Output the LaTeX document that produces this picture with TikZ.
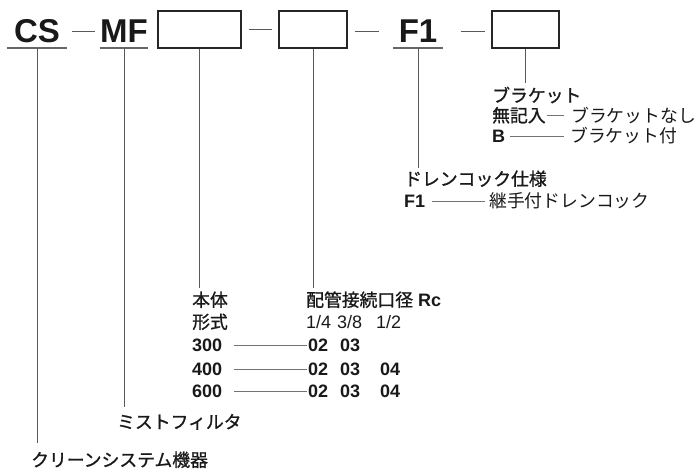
\documentclass[tikz,border=0pt]{standalone}
\usepackage{fontspec}
\setmainfont{Liberation Sans}
\newfontfamily\jp[Scale=0.99, BoldFont={Noto Sans CJK JP}, BoldFeatures={FakeBold=1.1}]{Noto Sans CJK JP}
\usetikzlibrary{positioning}
\tikzset{code node/.style={font=\fontsize{33}{33}\selectfont\bfseries, text=black!90, inner xsep=0pt, inner ysep=5pt, text height=23pt, text depth=0pt, anchor=south},}
\tikzset{slot node/.style={draw=black!85, line width=1.2pt, inner sep=0pt, minimum height=37pt},}
\tikzset{label node/.style={font=\fontsize{18}{21}\selectfont, text=black!90, inner sep=0pt, text height=15pt, text depth=2pt, anchor=base west},}
\tikzset{head node/.style={label node, font=\fontsize{18}{21}\selectfont\bfseries},}
\tikzset{stem/.style={draw=black!65, line width=0.8pt},}
\tikzset{uline/.style={draw=black!60, line width=1.3pt},}
\tikzset{leader/.style={draw=black!55, line width=0.7pt},}

\begin{document}
\begin{tikzpicture}[x=1pt,y=-1pt]
     \useasboundingbox (0,0) rectangle (698,471);

     \node[code node, minimum width=60pt] (cs) at (37,48) {CS};
     \node[code node, minimum width=45pt] (mf) at (124,48) {MF};
     \node[slot node, minimum width=83pt] (s1) at (199.5,29.5) {};
     \node[slot node, minimum width=68pt] (s2) at (313,29.5) {};
     \node[code node, minimum width=49pt] (f1) at (418,48) {F1};
     \node[slot node, minimum width=67pt] (s3) at (525.5,29.5) {};

     \draw[uline] (cs.south west) -- (cs.south east);
     \draw[uline] (mf.south west) -- (mf.south east);
     \draw[uline] (f1.south west) -- (f1.south east);

     \draw[stem, shorten <=5pt, shorten >=5pt] (cs.east) -- (cs.east -| mf.west);
     \draw[stem, shorten <=7pt, shorten >=6pt] (s1.east) -- (s2.west);
     \draw[stem, shorten <=7pt, shorten >=14pt] (s2.east |- f1.west) -- (f1.west);
     \draw[stem, shorten <=18pt, shorten >=6pt] (f1.east) -- (f1.east -| s3.west);

     \node[head node] (brk) at (492,102) {\jp ブラケット};
     \node[head node] (nokey) at (492,122) {\jp 無記入};
     \node[label node] (nodesc) at (571,122) {\jp ブラケットなし};
     \node[head node] (bkey) at (492,142.5) {B};
     \node[label node] (bdesc) at (570,142.5) {\jp ブラケット付};

     \node[head node] (drain) at (404,185.5) {\jp ドレンコック仕様};
     \node[head node] (f1key) at (404,207.5) {F1};
     \node[label node] (f1desc) at (489,207.5) {\jp 継手付ドレンコック};

     \node[head node] (body) at (192,306.5) {\jp 本体};
     \node[head node] (port) at (306,306.5) {{\jp 配管接続口径} Rc};
     \node[head node] (form) at (192,328.5) {\jp 形式};
     \node[label node] (q1) at (306,328.5) {1/4};
     \node[label node] (q2) at (337,328.5) {3/8};
     \node[label node] (q3) at (376,328.5) {1/2};

     \foreach \n/\y in {300/351.5, 400/375.5, 600/397.5} {
       \node[head node] (m\n) at (192,\y) {\n};
       \node[head node] (a\n) at (308,\y) {02};
       \node[head node] (b\n) at (340,\y) {03};
       \draw[leader, shorten <=12pt, shorten >=1pt] (m\n.east) -- (a\n.west);
     }
     \node[head node] (c400) at (380,375.5) {04};
     \node[head node] (c600) at (380,397.5) {04};

     \node[head node] (mist) at (117,428.5) {\jp ミストフィルタ};
     \node[head node] (clean) at (31,466.5) {\jp クリーンシステム機器};

     \draw[leader, shorten <=1pt, shorten >=7pt] (nokey.east) -- (nodesc.west);
     \draw[leader, shorten <=4.5pt, shorten >=6pt] (bkey.east) -- (bdesc.west);
     \draw[leader, shorten <=7pt, shorten >=4pt] (f1key.east) -- (f1desc.west);

     \draw[stem, shorten >=8.5pt] (cs.south) -- (cs.south |- clean.north);
     \draw[stem, shorten >=6.5pt] (mf.south) -- (mf.south |- mist.north);
     \draw[stem, shorten >=3.5pt] (s1.south) -- (s1.south |- body.north);
     \draw[stem, shorten >=3.5pt] (s2.south) -- (s2.south |- port.north);
     \draw[stem, shorten >=2.5pt] (f1.south) -- (f1.south |- drain.north);
     \draw[stem, shorten >=4pt] (s3.south) -- (s3.south |- brk.north);
\end{tikzpicture}
\end{document}
